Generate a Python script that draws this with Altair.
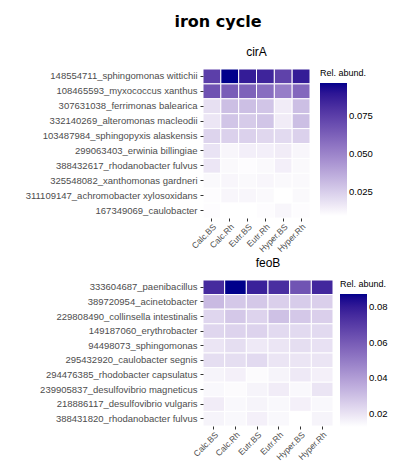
import altair as alt
import pandas as pd

samples = ["Calc.BS", "Calc.Rh", "Eutr.BS", "Eutr.Rh", "Hyper.BS", "Hyper.Rh"]

cira_taxa = [
    "148554711_sphingomonas wittichii",
    "108465593_myxococcus xanthus",
    "307631038_ferrimonas balearica",
    "332140269_alteromonas macleodii",
    "103487984_sphingopyxis alaskensis",
    "299063403_erwinia billingiae",
    "388432617_rhodanobacter fulvus",
    "325548082_xanthomonas gardneri",
    "311109147_achromobacter xylosoxidans",
    "167349069_caulobacter",
]
cira_values = [
    [0.075, 0.097, 0.088, 0.085, 0.074, 0.088],
    [0.068, 0.064, 0.062, 0.058, 0.052, 0.060],
    [0.019, 0.030, 0.030, 0.028, 0.015, 0.030],
    [0.017, 0.028, 0.026, 0.028, 0.015, 0.030],
    [0.023, 0.024, 0.024, 0.022, 0.021, 0.024],
    [0.018, 0.012, 0.014, 0.014, 0.015, 0.012],
    [0.017, 0.011, 0.010, 0.011, 0.014, 0.011],
    [0.011, 0.012, 0.011, 0.012, 0.011, 0.011],
    [0.010, 0.012, 0.012, 0.011, 0.009, 0.011],
    [0.010, 0.009, 0.009, 0.010, 0.012, 0.010],
]
cira_ticks = [0.025, 0.050, 0.075]

feob_taxa = [
    "333604687_paenibacillus",
    "389720954_acinetobacter",
    "229808490_collinsella intestinalis",
    "149187060_erythrobacter",
    "94498073_sphingomonas",
    "295432920_caulobacter segnis",
    "294476385_rhodobacter capsulatus",
    "239905837_desulfovibrio magneticus",
    "218886117_desulfovibrio vulgaris",
    "388431820_rhodanobacter fulvus",
]
feob_values = [
    [0.075, 0.087, 0.078, 0.074, 0.062, 0.076],
    [0.032, 0.028, 0.028, 0.026, 0.027, 0.026],
    [0.024, 0.028, 0.025, 0.030, 0.028, 0.026],
    [0.024, 0.025, 0.025, 0.023, 0.023, 0.023],
    [0.020, 0.022, 0.019, 0.020, 0.022, 0.021],
    [0.022, 0.022, 0.023, 0.020, 0.020, 0.020],
    [0.016, 0.017, 0.014, 0.016, 0.019, 0.017],
    [0.015, 0.014, 0.016, 0.018, 0.015, 0.020],
    [0.018, 0.015, 0.016, 0.015, 0.017, 0.015],
    [0.016, 0.015, 0.017, 0.015, 0.013, 0.016],
]
feob_ticks = [0.02, 0.04, 0.06, 0.08]


def to_df(taxa, values):
    rows = []
    for t, vals in zip(taxa, values):
        for s, v in zip(samples, vals):
            rows.append({"taxon": t, "sample": s, "value": v})
    return pd.DataFrame(rows)


def panel(taxa, values, title, w, h, ticks, fmt, extent, loffset):
    df = to_df(taxa, values)
    return (
        alt.Chart(df, title=alt.TitleParams(title, fontSize=12, font="Liberation Sans",
                                            fontWeight="normal", offset=10))
        .mark_rect(stroke="white", strokeWidth=1)
        .encode(
            x=alt.X("sample:N", sort=samples, title=None,
                    axis=alt.Axis(labelAngle=-45, labelAlign="right", labelBaseline="top",
                                  labelFontSize=8.5, labelColor="#4d4d4d", tickColor="#333",
                                  tickSize=3, domain=False, labelPadding=1)),
            y=alt.Y("taxon:N", sort=taxa, title=None,
                    axis=alt.Axis(labelFontSize=9.5, labelColor="#4d4d4d", tickColor="#333",
                                  tickSize=3, domain=False, labelPadding=3, labelLimit=300,
                                  minExtent=extent)),
            color=alt.Color("value:Q",
                            scale=alt.Scale(range=["#ffffff", "#00008b"], interpolate="lab"),
                            legend=alt.Legend(title="Rel. abund.", gradientLength=133,
                                              gradientThickness=27, titleFontSize=9,
                                              titleFontWeight="normal", labelFontSize=9.5,
                                              values=ticks, format=fmt, offset=loffset,
                                              labelColor="black")),
        )
        .properties(width=w, height=h)
    )


top = panel(cira_taxa, cira_values, "cirA", 107, 149, cira_ticks, ".3f", 181, 10)
bottom = panel(feob_taxa, feob_values, "feoB", 130, 146, feob_ticks, ".2f", 166, 7)

chart = (
    alt.vconcat(top, bottom, spacing=2)
    .resolve_scale(color="independent")
    .properties(
        title=alt.TitleParams("iron cycle", fontSize=16, font="DejaVu Sans",
                              fontWeight="bold", anchor="middle", offset=16, dx=13),
        padding={"left": 14, "top": 5, "right": 5, "bottom": 5},
    )
    .configure_view(stroke=None)
    .configure_axis(labelFont="Liberation Sans", grid=False)
    .configure_legend(labelFont="Liberation Sans", titleFont="Liberation Sans")
)

chart.save("out.html", embed_options={"renderer": "svg", "actions": False})
